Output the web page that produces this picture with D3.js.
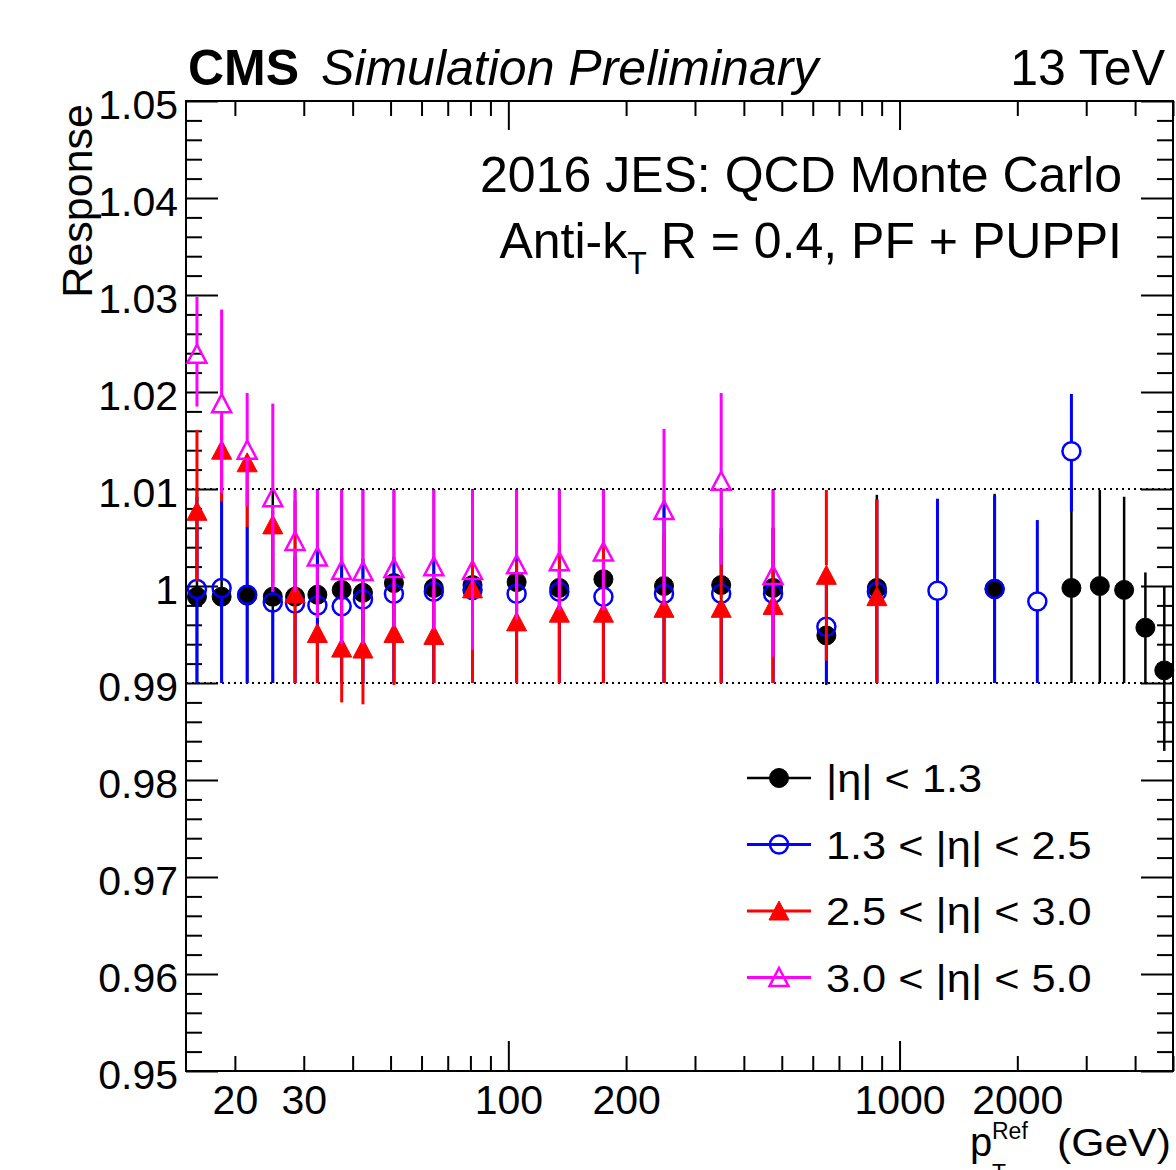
<!DOCTYPE html>
<html>
<head>
<meta charset="utf-8">
<script src="https://cdn.jsdelivr.net/npm/d3@7"></script>
<style>
  html, body { margin: 0; padding: 0; background: #fff; }
  svg text { font-family: "Liberation Sans", Arial, Helvetica, sans-serif; fill: #000; }
</style>
</head>
<body>
<svg id="chart" width="1176" height="1170"></svg>
<script>
// pT bin centres (GeV), shared by all four eta ranges.
const ptBins = [16, 18.5, 21.5, 25, 28.5, 32.5, 37.5, 42.5, 51, 64.5, 81, 105, 135, 175,
  250, 350, 475, 650, 875, 1250, 1750, 2250, 2750, 3250, 3750, 4250, 4750]

// |eta| < 1.3 (response, lower and upper end of the error bar).
const blackResp = [0.9989, 0.9989, 0.9990, 0.9989, 0.9989, 0.9991, 0.9996, 0.9993, 1.0003, 0.9998, 1.0001, 1.0004, 0.9998, 1.0007,
  1.0000, 1.0001, 0.9998, 0.9949, 0.9998, null, 0.9997, null, 0.9998, 1.0000, 0.9996, 0.9957, 0.9913]
const blackLo = [0.99, 0.99, 0.99, 0.99, 0.99, 0.99, 0.99, 0.99, 0.99, 0.99, 0.99, 0.99, 0.99, 0.99,
  0.99, 0.99, 0.99, 0.9898, 0.99, null, 0.99, null, 0.99, 0.99, 0.99, 0.99, 0.9830]
const blackHi = [1.01, 1.01, 1.01, 1.01, 1.01, 1.01, 1.01, 1.01, 1.01, 1.01, 1.01, 1.01, 1.01, 1.01,
  1.01, 1.01, 1.01, 1.0000, 1.0094, null, 1.0095, null, 1.01, 1.0099, 1.0092, 1.0014, 0.9999]

// 1.3 < |eta| < 2.5
const blueResp = [0.9997, 0.9998, 0.9991, 0.9983, 0.9982, 0.9980, 0.9979, 0.9986, 0.9992, 0.9994, 0.9996, 0.9992, 0.9994, 0.9989,
  0.9992, 0.9992, 0.9992, 0.9958, 0.9994, 0.9995, 0.9997, 0.9984, 1.0139, null, null, null, null]
const blueLo = [0.99, 0.99, 0.99, 0.99, 0.99, 0.99, 0.99, 0.99, 0.99, 0.99, 0.99, 0.99, 0.99, 0.99,
  0.99, 0.99, 0.99, 0.99, 0.99, 0.99, 0.99, 0.99, 1.0077, null, null, null, null]
const blueHi = [1.0092, 1.0088, 1.0061, 1.0070, 1.0030, 1.0036, 1.0030, 1.0028, 1.0030, 1.0030, 1.0060, 1.0030, 1.0015, 1.0015,
  1.0088, 1.0060, 1.0060, 1.0016, 1.0089, 1.0090, 1.0093, 1.0068, 1.0198, null, null, null, null]

// 2.5 < |eta| < 3.0
const redResp = [1.0077, 1.0140, 1.0127, 1.0063, 0.9992, 0.9951, 0.9936, 0.9935, 0.9951, 0.9949, 0.9997, 0.9963, 0.9972, 0.9972,
  0.9977, 0.9977, 0.9980, 1.0011, 0.9989, null, null, null, null, null, null, null, null]
const redLo = [1.0005, 1.0087, 1.0061, 1.0003, 0.99, 0.99, 0.9880, 0.9878, 0.9898, 0.99, 0.99, 0.99, 0.99, 0.99,
  0.99, 0.99, 0.99, 0.9923, 0.99, null, null, null, null, null, null, null, null]
const redHi = [1.0161, 1.0175, 1.0125, 1.0078, 1.0088, 0.9953, 0.9992, 0.9992, 1.0004, 0.9998, 1.0090, 1.0026, 1.0044, 1.0044,
  1.0054, 1.0054, 1.0060, 1.0099, 1.0089, null, null, null, null, null, null, null, null]

// 3.0 < |eta| < 5.0
const magentaResp = [1.0239, 1.0188, 1.0140, 1.0091, 1.0046, 1.0030, 1.0016, 1.0015, 1.0018, 1.0020, 1.0016, 1.0022, 1.0025, 1.0035,
  1.0078, 1.0108, 1.0011, null, null, null, null, null, null, null, null, null, null]
const magentaLo = [1.0185, 1.0096, 1.0082, 0.9994, 0.9994, 0.9967, 0.9940, 0.9940, 0.9958, 0.9955, 0.9934, 0.9965, 0.9975, 0.9975,
  0.9980, 1.0022, 0.9927, null, null, null, null, null, null, null, null, null, null]
const magentaHi = [1.0298, 1.0285, 1.0199, 1.0188, 1.0099, 1.0099, 1.0099, 1.0099, 1.0099, 1.0099, 1.0099, 1.0099, 1.0099, 1.0099,
  1.0162, 1.0199, 1.0099, null, null, null, null, null, null, null, null, null, null]

const legendLabels = ['|η| < 1.3', '1.3 < |η| < 2.5', '2.5 < |η| < 3.0', '3.0 < |η| < 5.0']

// Axis ticks and labels.
const yMajorTicks = [0.95, 0.96, 0.97, 0.98, 0.99, 1.00, 1.01, 1.02, 1.03, 1.04, 1.05]
const yTickLabels = ['0.95', '0.96', '0.97', '0.98', '0.99', '1', '1.01', '1.02', '1.03', '1.04', '1.05']
const xMajorTicks = [100, 1000]
const xLabelTicks = [20, 30, 100, 200, 1000, 2000]
const refLines = [0.99, 1.01]

// Main frame.
const frame = { left: 186, right: 1173, top: 101, bottom: 1071 }
const svg = d3.select('#chart')

const x = d3.scaleLog().domain([15, 5000]).range([frame.left, frame.right])
const y = d3.scaleLinear().domain([0.95, 1.05]).range([frame.bottom, frame.top])

// Minor ticks: 2..9 of each decade, every 0.002 in response.
const xMinorTicks = []
;[10, 100, 1000].forEach(dec => {
  for (let k = 2; k <= 9; k++) {
    const v = k * dec
    if (v > 15 && v <= 5000 && !xMajorTicks.includes(v)) xMinorTicks.push(v)
  }
})
const yMinorTicks = d3.range(0, 51).map(i => +(0.95 + i * 0.002).toFixed(3))
  .filter(v => !yMajorTicks.some(m => Math.abs(m - v) < 1e-6))

// Dotted +-1% lines.
svg.append('g')
  .selectAll('line')
  .data(refLines)
  .enter()
  .append('line')
    .attr('x1', frame.left)
    .attr('x2', frame.right)
    .attr('y1', d => y(d))
    .attr('y2', d => y(d))
    .attr('stroke', '#000')
    .attr('stroke-width', 2)
    .attr('stroke-dasharray', '2,4')

// Tick helper: draws an axis with no labels and no domain line.
function ticks(axis, pos, values, size) {
  const g = svg.append('g')
    .attr('transform', pos)
    .call(axis.tickValues(values).tickSize(size).tickSizeOuter(0).tickFormat(''))
  g.select('.domain').remove()
  g.selectAll('text').remove()
  g.selectAll('line').attr('stroke', '#000').attr('stroke-width', 2)
  return g
}

// Left and right axes (ticks point inward).
ticks(d3.axisLeft(y), 'translate(' + frame.left + ',0)', yMajorTicks, -32)
ticks(d3.axisLeft(y), 'translate(' + frame.left + ',0)', yMinorTicks, -16)
ticks(d3.axisRight(y), 'translate(' + frame.right + ',0)', yMajorTicks, -32)
ticks(d3.axisRight(y), 'translate(' + frame.right + ',0)', yMinorTicks, -16)

// Bottom and top axes.
ticks(d3.axisBottom(x), 'translate(0,' + frame.bottom + ')', xMajorTicks, -30)
ticks(d3.axisBottom(x), 'translate(0,' + frame.bottom + ')', xMinorTicks, -15)
ticks(d3.axisTop(x), 'translate(0,' + frame.top + ')', xMajorTicks, -29)
ticks(d3.axisTop(x), 'translate(0,' + frame.top + ')', xMinorTicks, -15)

// Tick labels.
const yLab = svg.append('g')
  .attr('transform', 'translate(' + frame.left + ',0)')
  .call(d3.axisLeft(y).tickValues(yMajorTicks).tickSize(0).tickPadding(8)
    .tickFormat((d, i) => yTickLabels[i]))
yLab.select('.domain').remove()
yLab.selectAll('text').attr('font-size', 41).attr('dy', '0.42em')
  .style('font-family', '"Liberation Sans", Arial, sans-serif').attr('fill', '#000')

const xLab = svg.append('g')
  .attr('transform', 'translate(0,' + frame.bottom + ')')
  .call(d3.axisBottom(x).tickValues(xLabelTicks).tickSize(0).tickPadding(14)
    .tickFormat(d3.format('d')))
xLab.select('.domain').remove()
xLab.selectAll('text').attr('font-size', 41)
  .style('font-family', '"Liberation Sans", Arial, sans-serif').attr('fill', '#000')

// Frame.
svg.append('rect')
  .attr('x', frame.left)
  .attr('y', frame.top)
  .attr('width', frame.right - frame.left)
  .attr('height', frame.bottom - frame.top)
  .attr('fill', 'none')
  .attr('stroke', '#000')
  .attr('stroke-width', 2)

// Marker shapes (ROOT-like triangle: apex at -r, base at +0.9r).
const triUp = {
  draw(ctx, size) {
    const r = Math.sqrt(size) / 2
    ctx.moveTo(0, -r)
    ctx.lineTo(r, r * 0.9)
    ctx.lineTo(-r, r * 0.9)
    ctx.closePath()
  }
}

const series = [
  { resp: blackResp, lo: blackLo, hi: blackHi, color: '#000000', shape: 'circle', filled: true, r: 9.5, lw: 2.5 },
  { resp: blueResp, lo: blueLo, hi: blueHi, color: '#0000ff', shape: 'circle', filled: false, r: 9, lw: 3 },
  { resp: redResp, lo: redLo, hi: redHi, color: '#ff0000', shape: 'tri', filled: true, r: 10, lw: 3 },
  { resp: magentaResp, lo: magentaLo, hi: magentaHi, color: '#ff00ff', shape: 'tri', filled: false, r: 9.5, lw: 3 }
]

function markerPath(s) {
  if (s.shape === 'circle') return d3.symbol(d3.symbolCircle, Math.PI * s.r * s.r)()
  return d3.symbol(triUp, 4 * s.r * s.r)()
}

function gaps(s) {
  return s.shape === 'circle' ? [s.r, s.r] : [s.r, 0.9 * s.r]
}

function styleMarker(sel, s) {
  sel.attr('d', markerPath(s))
    .attr('fill', s.filled ? s.color : 'none')
    .attr('stroke', s.color)
    .attr('stroke-width', s.filled ? 1 : 2.5)
}

// Error bars and markers, series by series.
series.forEach(s => {
  const g = svg.append('g')
  const pts = ptBins.map((pt, i) => ({ pt: pt, v: s.resp[i], lo: s.lo[i], hi: s.hi[i] }))
    .filter(d => d.v !== null)
  const [gTop, gBot] = gaps(s)

  pts.forEach(d => {
    const cx = x(d.pt), cy = y(d.v)
    if (y(d.hi) < cy - gTop) {
      g.append('line').attr('x1', cx).attr('x2', cx).attr('y1', y(d.hi)).attr('y2', cy - gTop)
        .attr('stroke', s.color).attr('stroke-width', s.lw)
    }
    if (y(d.lo) > cy + gBot) {
      g.append('line').attr('x1', cx).attr('x2', cx).attr('y1', cy + gBot).attr('y2', y(d.lo))
        .attr('stroke', s.color).attr('stroke-width', s.lw)
    }
  })

  g.selectAll('path')
    .data(pts)
    .enter()
    .append('path')
      .attr('transform', d => 'translate(' + x(d.pt) + ',' + y(d.v) + ')')
      .call(styleMarker, s)
})

// Legend.
const legend = svg.append('g')
series.forEach((s, i) => {
  const ly = 778 + i * 66.5
  legend.append('line')
    .attr('x1', 747).attr('x2', 811).attr('y1', ly).attr('y2', ly)
    .attr('stroke', s.color).attr('stroke-width', s.lw)
  legend.append('path')
    .attr('transform', 'translate(779,' + ly + ')')
    .call(styleMarker, s)
  legend.append('text')
    .attr('transform', 'translate(826,' + (ly + 14) + ') scale(1.14,1)')
    .attr('font-size', 38)
    .text(legendLabels[i])
})

// Header.
svg.append('text')
  .attr('x', 188).attr('y', 85)
  .attr('font-size', 50).attr('font-weight', 'bold')
  .text('CMS')
svg.append('text')
  .attr('x', 321).attr('y', 85)
  .attr('font-size', 50).attr('font-style', 'italic')
  .text('Simulation Preliminary')
svg.append('text')
  .attr('x', 1165).attr('y', 85)
  .attr('font-size', 50).attr('text-anchor', 'end')
  .text('13 TeV')

// Info text.
svg.append('text')
  .attr('x', 1122).attr('y', 192)
  .attr('font-size', 50).attr('text-anchor', 'end')
  .text('2016 JES: QCD Monte Carlo')
const info = svg.append('text')
  .attr('x', 1122).attr('y', 258)
  .attr('font-size', 50).attr('text-anchor', 'end')
info.append('tspan').text('Anti-k')
info.append('tspan').attr('font-size', 32).attr('dy', 16).text('T')
info.append('tspan').attr('dy', -16).text(' R = 0.4, PF + PUPPI')

// Axis titles.
svg.append('text')
  .attr('transform', 'translate(92,104) rotate(-90)')
  .attr('font-size', 43).attr('text-anchor', 'end')
  .text('Response')

const xTitle = svg.append('g')
xTitle.append('text')
  .attr('x', 970).attr('y', 1156)
  .attr('font-size', 40)
  .text('p')
xTitle.append('text')
  .attr('x', 992).attr('y', 1139)
  .attr('font-size', 23)
  .text('Ref')
xTitle.append('text')
  .attr('x', 992).attr('y', 1181)
  .attr('font-size', 23)
  .text('T')
xTitle.append('text')
  .attr('x', 1057).attr('y', 1156)
  .attr('font-size', 39)
  .attr('textLength', 114)
  .attr('lengthAdjust', 'spacingAndGlyphs')
  .text('(GeV)')
</script>
</body>
</html>
